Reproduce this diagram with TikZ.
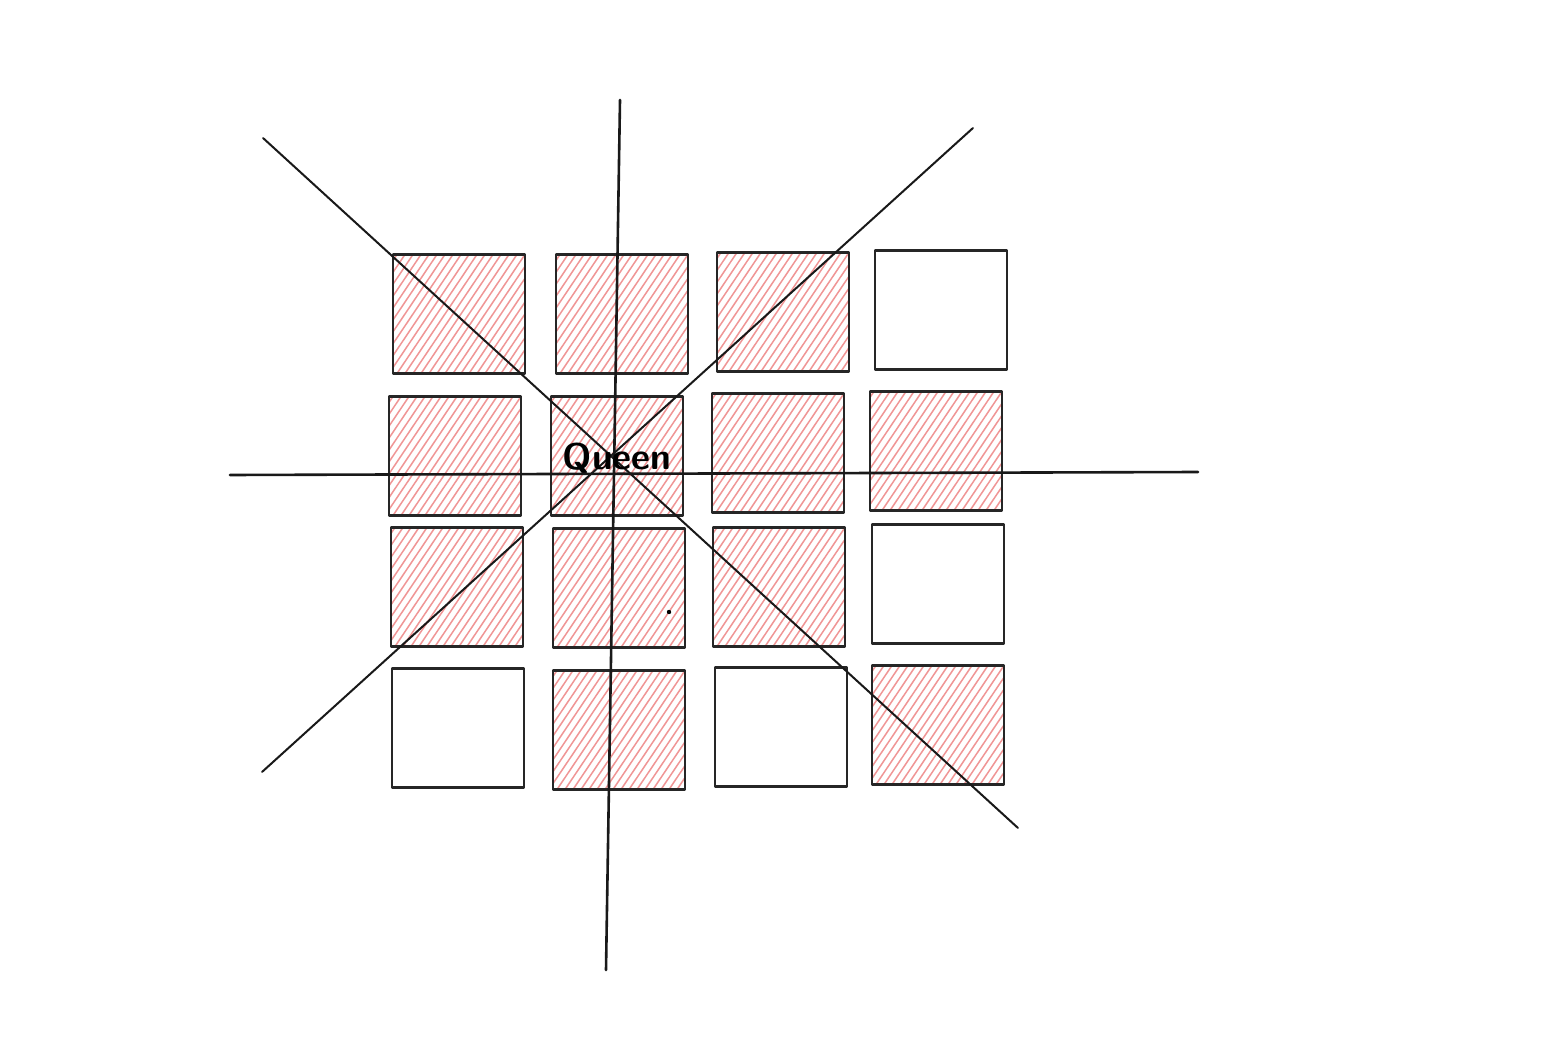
\documentclass[tikz,border=0pt]{standalone}
\usepackage{xcolor}
\definecolor{hatchpink}{RGB}{240,150,150}
\begin{document}
\begin{tikzpicture}[x=1pt,y=-1pt,line join=round,line cap=round,
	cell/.style={draw=black!85,line width=2.4pt,inner sep=0pt,minimum width=132pt,minimum height=119pt},
	hit/.style={cell,path picture={
		\foreach \k in {-100,-92,...,140}
		\draw[hatchpink,line width=1.5pt] ([xshift=\k pt]path picture bounding box.south west)--++(84pt,125pt);}},
	ray/.style={black!90,line width=2pt}]
	\fill[white] (0,0) rectangle (1564,1064);
	\useasboundingbox (0,0) rectangle (1564,1064);
	% board
	\foreach \n/\x/\y/\s in {c11/459/314/hit,c12/622/314/hit,c13/783/312/hit,c14/941/310/cell,
		c21/455/456/hit,c22/617/456/hit,c23/778/453/hit,c24/936/451/hit,
		c31/457/587/hit,c32/619/588/hit,c33/779/587/hit,c34/938/584/cell,
		c41/458/728/cell,c42/619/730/hit,c43/781/727/cell,c44/938/725/hit}
	\node[\s] (\n) at (\x,\y) {};
	% lines of attack
	\coordinate (vt) at (620,100); \coordinate (vb) at (606,970);
	\coordinate (hl) at (230,475); \coordinate (hr) at (1198,472);
	\coordinate (dtl) at (263,138); \coordinate (dbr) at (1018,828);
	\coordinate (dbl) at (262,772); \coordinate (dtr) at (973,128);
	\draw[ray,line width=2.6pt] (vt)--(vb);
	\draw[ray,line width=2.6pt] (hl)--(hr);
	\draw[ray] (dtl)--(dbr);
	\draw[ray] (dbl)--(dtr);
	\node[font=\sffamily\bfseries\fontsize{37}{44}\selectfont] (queen) at (617,458) {Queen};
	\fill (669,612) circle (2.2pt);
\end{tikzpicture}
\end{document}
